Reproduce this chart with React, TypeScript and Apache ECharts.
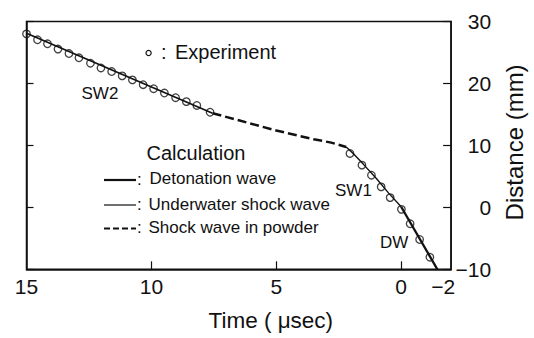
import React, { useEffect, useRef } from 'react';
import * as echarts from 'echarts';

// Experimental points (time in µs, distance in mm)
const expTime = [15.0, 14.56, 14.16, 13.74, 13.3, 12.9, 12.44, 12.02, 11.59, 11.17, 10.76, 10.33, 9.91, 9.48, 9.03, 8.6, 8.18, 7.65,
  2.05, 1.57, 1.19, 0.8, 0.44, -0.01, -0.36, -0.74, -1.15, -1.49];
const expDist = [28.0, 27.05, 26.4, 25.55, 24.83, 24.14, 23.27, 22.5, 21.92, 21.22, 20.57, 19.8, 19.15, 18.45, 17.7, 17.06, 16.45, 15.35,
  8.7, 6.81, 5.19, 3.3, 1.57, -0.32, -2.65, -5.19, -8.05, -10.1];

// Calculation: underwater shock wave SW2
const sw2Time = [15.0, 7.55];
const sw2Dist = [28.1, 15.2];
// Calculation: shock wave in powder
const powderTime = [7.55, 6.5, 5.0, 3.5, 2.8, 2.2];
const powderDist = [15.2, 14.05, 12.4, 11.0, 10.45, 9.75];
// Calculation: underwater shock wave SW1
const sw1Time = [2.2, 1.9, 1.5, 1.0, 0.5, 0.0];
const sw1Dist = [9.75, 8.6, 6.9, 4.7, 2.3, 0.1];
// Calculation: detonation wave DW
const dwTime = [0.0, -1.45];
const dwDist = [0.1, -10.0];

const xTicks = [15, 10, 5, 0, -2];
const yTicks = [-10, 0, 10, 20, 30];

const FONT = '"Liberation Sans", Arial, sans-serif';
const INK = '#111';

const zip = (a: number[], b: number[]) => a.map((v, i) => [v, b[i]]);
const fmt = (v: number) => (v < 0 ? '\u2212' + Math.abs(v) : String(v));

export default function App() {
  const ref = useRef<HTMLDivElement>(null);
  useEffect(() => {
    if (!ref.current) return;
    const chart = echarts.init(ref.current, undefined, { renderer: 'svg' });
    const lineSeries = (name: string, t: number[], d: number[], width: number, type: any) => ({
      name,
      type: 'line',
      data: zip(t, d),
      yAxisIndex: 1,
      showSymbol: false,
      symbol: 'none',
      smooth: false,
      lineStyle: { color: INK, width, type },
      z: 3,
    });
    chart.setOption({
      animation: false,
      backgroundColor: '#fff',
      grid: { left: 26.5, right: 82.3, top: 21.5, bottom: 68.7, show: true, borderColor: INK, borderWidth: 1.5, backgroundColor: 'transparent' },
      xAxis: {
        type: 'value',
        inverse: true,
        min: -2,
        max: 15,
        name: 'Time ( \u03bcsec)',
        nameLocation: 'middle',
        nameGap: 40,
        nameTextStyle: { fontFamily: FONT, fontSize: 22.5, color: INK, padding: [0, 0, 0, 64] },
        axisLine: { show: true, onZero: false, lineStyle: { color: INK, width: 1.5 } },
        axisTick: { show: true, inside: true, length: 8, customValues: [10, 5, 0], lineStyle: { color: INK, width: 1.2 } },
        axisLabel: {
          show: true,
          customValues: xTicks,
          formatter: (v: number) => (v < 0 ? '{n|' + fmt(v) + '}' : fmt(v)),
          fontFamily: FONT,
          fontSize: 21,
          color: INK,
          margin: 7,
          rich: { n: { fontFamily: FONT, fontSize: 21, color: INK, padding: [0, 16, 0, 0] } },
        },
        splitLine: { show: false },
      },
      yAxis: [
        {
          type: 'value',
          position: 'left',
          min: -10,
          max: 30,
          interval: 10,
          axisLine: { show: true, onZero: false, lineStyle: { color: INK, width: 1.5 } },
          axisTick: { show: true, inside: true, length: 7, lineStyle: { color: INK, width: 1.2 } },
          axisLabel: { show: false },
          splitLine: { show: false },
        },
        {
          type: 'value',
          position: 'right',
          min: -10,
          max: 30,
          interval: 10,
          name: 'Distance (mm)',
          nameLocation: 'middle',
          nameRotate: 90,
          nameGap: 45,
          nameTextStyle: { fontFamily: FONT, fontSize: 24, color: INK, padding: [0, 0, 0, 6] },
          axisLine: { show: true, onZero: false, lineStyle: { color: INK, width: 1.5 } },
          axisTick: { show: true, inside: true, length: 8, lineStyle: { color: INK, width: 1.2 } },
          axisLabel: { show: true, formatter: fmt, align: 'right', margin: 40, fontFamily: FONT, fontSize: 21, color: INK },
          splitLine: { show: false },
        },
      ],
      series: [
        lineSeries('SW2', sw2Time, sw2Dist, 1.7, 'solid'),
        lineSeries('Shock wave in powder', powderTime, powderDist, 2.5, [9, 4]),
        lineSeries('SW1', sw1Time, sw1Dist, 1.4, 'solid'),
        lineSeries('Detonation wave', dwTime, dwDist, 2.3, 'solid'),
        {
          name: 'Experiment',
          type: 'scatter',
          yAxisIndex: 1,
          data: zip(expTime, expDist),
          symbol: 'circle',
          symbolSize: 7.5,
          itemStyle: { color: 'rgba(255,255,255,0)', borderColor: INK, borderWidth: 1.3 },
          z: 4,
        },
      ],
      graphic: [
        { type: 'circle', shape: { cx: 148.6, cy: 53, r: 2.6 }, style: { fill: 'none', stroke: INK, lineWidth: 1.2 } },
        { type: 'text', x: 161, y: 52, style: { text: ':', font: `20px ${FONT}`, fill: INK, verticalAlign: 'middle' } },
        { type: 'text', x: 175, y: 52, style: { text: 'Experiment', font: `20px ${FONT}`, fill: INK, verticalAlign: 'middle' } },
        { type: 'text', x: 81.5, y: 93.5, style: { text: 'SW2', font: `17px ${FONT}`, fill: INK, verticalAlign: 'middle' } },
        { type: 'text', x: 335, y: 190, style: { text: 'SW1', font: `17px ${FONT}`, fill: INK, verticalAlign: 'middle' } },
        { type: 'text', x: 380, y: 242, style: { text: 'DW', font: `17px ${FONT}`, fill: INK, verticalAlign: 'middle' } },
        { type: 'text', x: 146.5, y: 152.5, style: { text: 'Calculation', font: `20px ${FONT}`, fill: INK, verticalAlign: 'middle' } },
        { type: 'line', shape: { x1: 104, y1: 180, x2: 136, y2: 180 }, style: { stroke: INK, lineWidth: 2.2 } },
        { type: 'line', shape: { x1: 104, y1: 205, x2: 136, y2: 205 }, style: { stroke: INK, lineWidth: 1.2 } },
        { type: 'line', shape: { x1: 104, y1: 228.5, x2: 136, y2: 228.5 }, style: { stroke: INK, lineWidth: 2.2, lineDash: [6, 3] } },
        { type: 'text', x: 137, y: 179, style: { text: ':', font: `17px ${FONT}`, fill: INK, verticalAlign: 'middle' } },
        { type: 'text', x: 137, y: 204, style: { text: ':', font: `17px ${FONT}`, fill: INK, verticalAlign: 'middle' } },
        { type: 'text', x: 137, y: 227, style: { text: ':', font: `17px ${FONT}`, fill: INK, verticalAlign: 'middle' } },
        { type: 'text', x: 149.5, y: 178.5, style: { text: 'Detonation wave', font: `17px ${FONT}`, fill: INK, verticalAlign: 'middle' } },
        { type: 'text', x: 148.5, y: 204, style: { text: 'Underwater shock wave', font: `17px ${FONT}`, fill: INK, verticalAlign: 'middle' } },
        { type: 'text', x: 148.5, y: 227, style: { text: 'Shock wave in powder', font: `17px ${FONT}`, fill: INK, verticalAlign: 'middle' } },
      ],
    });
    return () => chart.dispose();
  }, []);
  return <div ref={ref} style={{ position: 'fixed', left: 0, top: 0, width: 534, height: 338, background: '#fff' }} />;
}
